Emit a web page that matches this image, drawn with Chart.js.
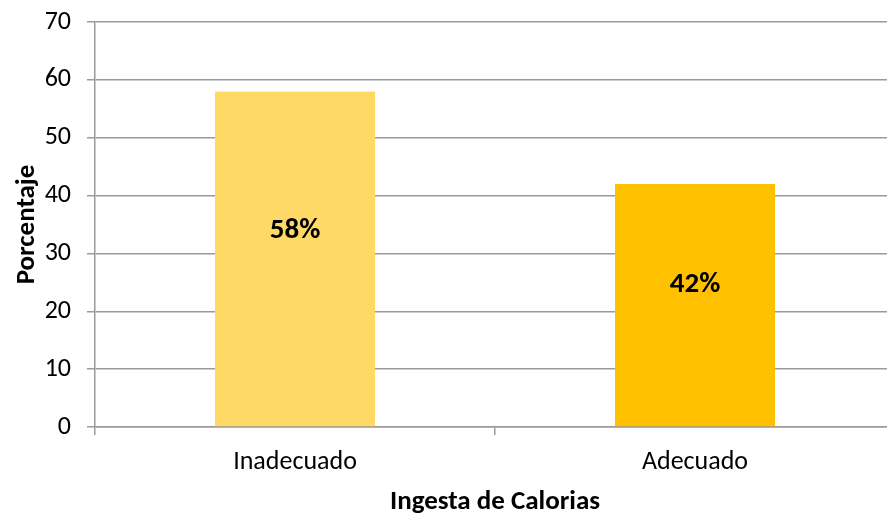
<!DOCTYPE html>
<html>
<head>
<meta charset="utf-8">
<script src="https://cdn.jsdelivr.net/npm/chart.js@4"></script>
<style>
  html, body { margin: 0; padding: 0; background: #ffffff; overflow: hidden; width: 887px; height: 515px; }
  #wrap { position: absolute; left: 0; top: 0; width: 895px; height: 515px; }
</style>
</head>
<body>
<div id="wrap"><canvas id="c" width="895" height="515"></canvas></div>
<script>
// Caloric intake adequacy (percent of respondents)
const categories = ['Inadecuado', 'Adecuado'];
const percentValues = [58, 42];
const barColors = ['#FED966', '#FFC000'];
const yTicks = [0, 10, 20, 30, 40, 50, 60, 70];

const FONT = "Carlito, Lato, 'Open Sans', sans-serif";
const GRID = '#9a9a9a';

// Bold percentage text inside each bar
const barValueLabels = {
  id: 'barValueLabels',
  afterDatasetsDraw(chart) {
    const ctx = chart.ctx;
    const meta = chart.getDatasetMeta(0);
    ctx.save();
    ctx.font = "bold 29px " + FONT;
    ctx.fillStyle = '#000000';
    ctx.textAlign = 'center';
    ctx.textBaseline = 'middle';
    meta.data.forEach((bar, i) => {
      const v = chart.data.datasets[0].data[i];
      const y = bar.y + (bar.base - bar.y) * 0.415;
      ctx.fillText(v + '%', bar.x, y);
    });
    ctx.restore();
  }
};

new Chart(document.getElementById('c'), {
  type: 'bar',
  data: {
    labels: categories,
    datasets: [{
      data: percentValues,
      backgroundColor: barColors,
      borderWidth: 0,
      categoryPercentage: 0.4,
      barPercentage: 1.0
    }]
  },
  options: {
    responsive: false,
    animation: false,
    devicePixelRatio: 1,
    layout: { padding: { top: 22, left: 0, right: 0, bottom: 0 } },
    plugins: {
      legend: { display: false },
      tooltip: { enabled: false }
    },
    scales: {
      x: {
        offset: true,
        grid: {
          offset: true,
          drawOnChartArea: false,
          drawTicks: true,
          tickLength: 8,
          color: GRID,
          lineWidth: 1.5
        },
        border: { color: GRID, width: 1.5 },
        ticks: {
          color: '#000000',
          padding: 12,
          font: { family: FONT, size: 26 }
        },
        title: {
          display: true,
          text: 'Ingesta de Calorias',
          color: '#000000',
          font: { family: FONT, size: 27, weight: 'bold' },
          padding: { top: 0, bottom: -3 }
        },
        afterFit(scale) { scale.height = 88; }
      },
      y: {
        min: 0,
        max: 70,
        afterBuildTicks(scale) { scale.ticks = yTicks.map(v => ({ value: v })); },
        grid: {
          color: GRID,
          lineWidth: 1.5,
          tickLength: 8
        },
        border: { color: GRID, width: 1.5 },
        ticks: {
          color: '#000000',
          padding: 16,
          font: { family: FONT, size: 26 }
        },
        title: {
          display: true,
          text: 'Porcentaje',
          color: '#000000',
          font: { family: FONT, size: 27, weight: 'bold' },
          padding: { top: 11, bottom: 0 }
        },
        afterFit(scale) {
          scale.width = 95;
          scale.paddingTop = 0;
          scale.paddingBottom = 0;
        }
      }
    }
  },
  plugins: [barValueLabels]
});
</script>
</body>
</html>
